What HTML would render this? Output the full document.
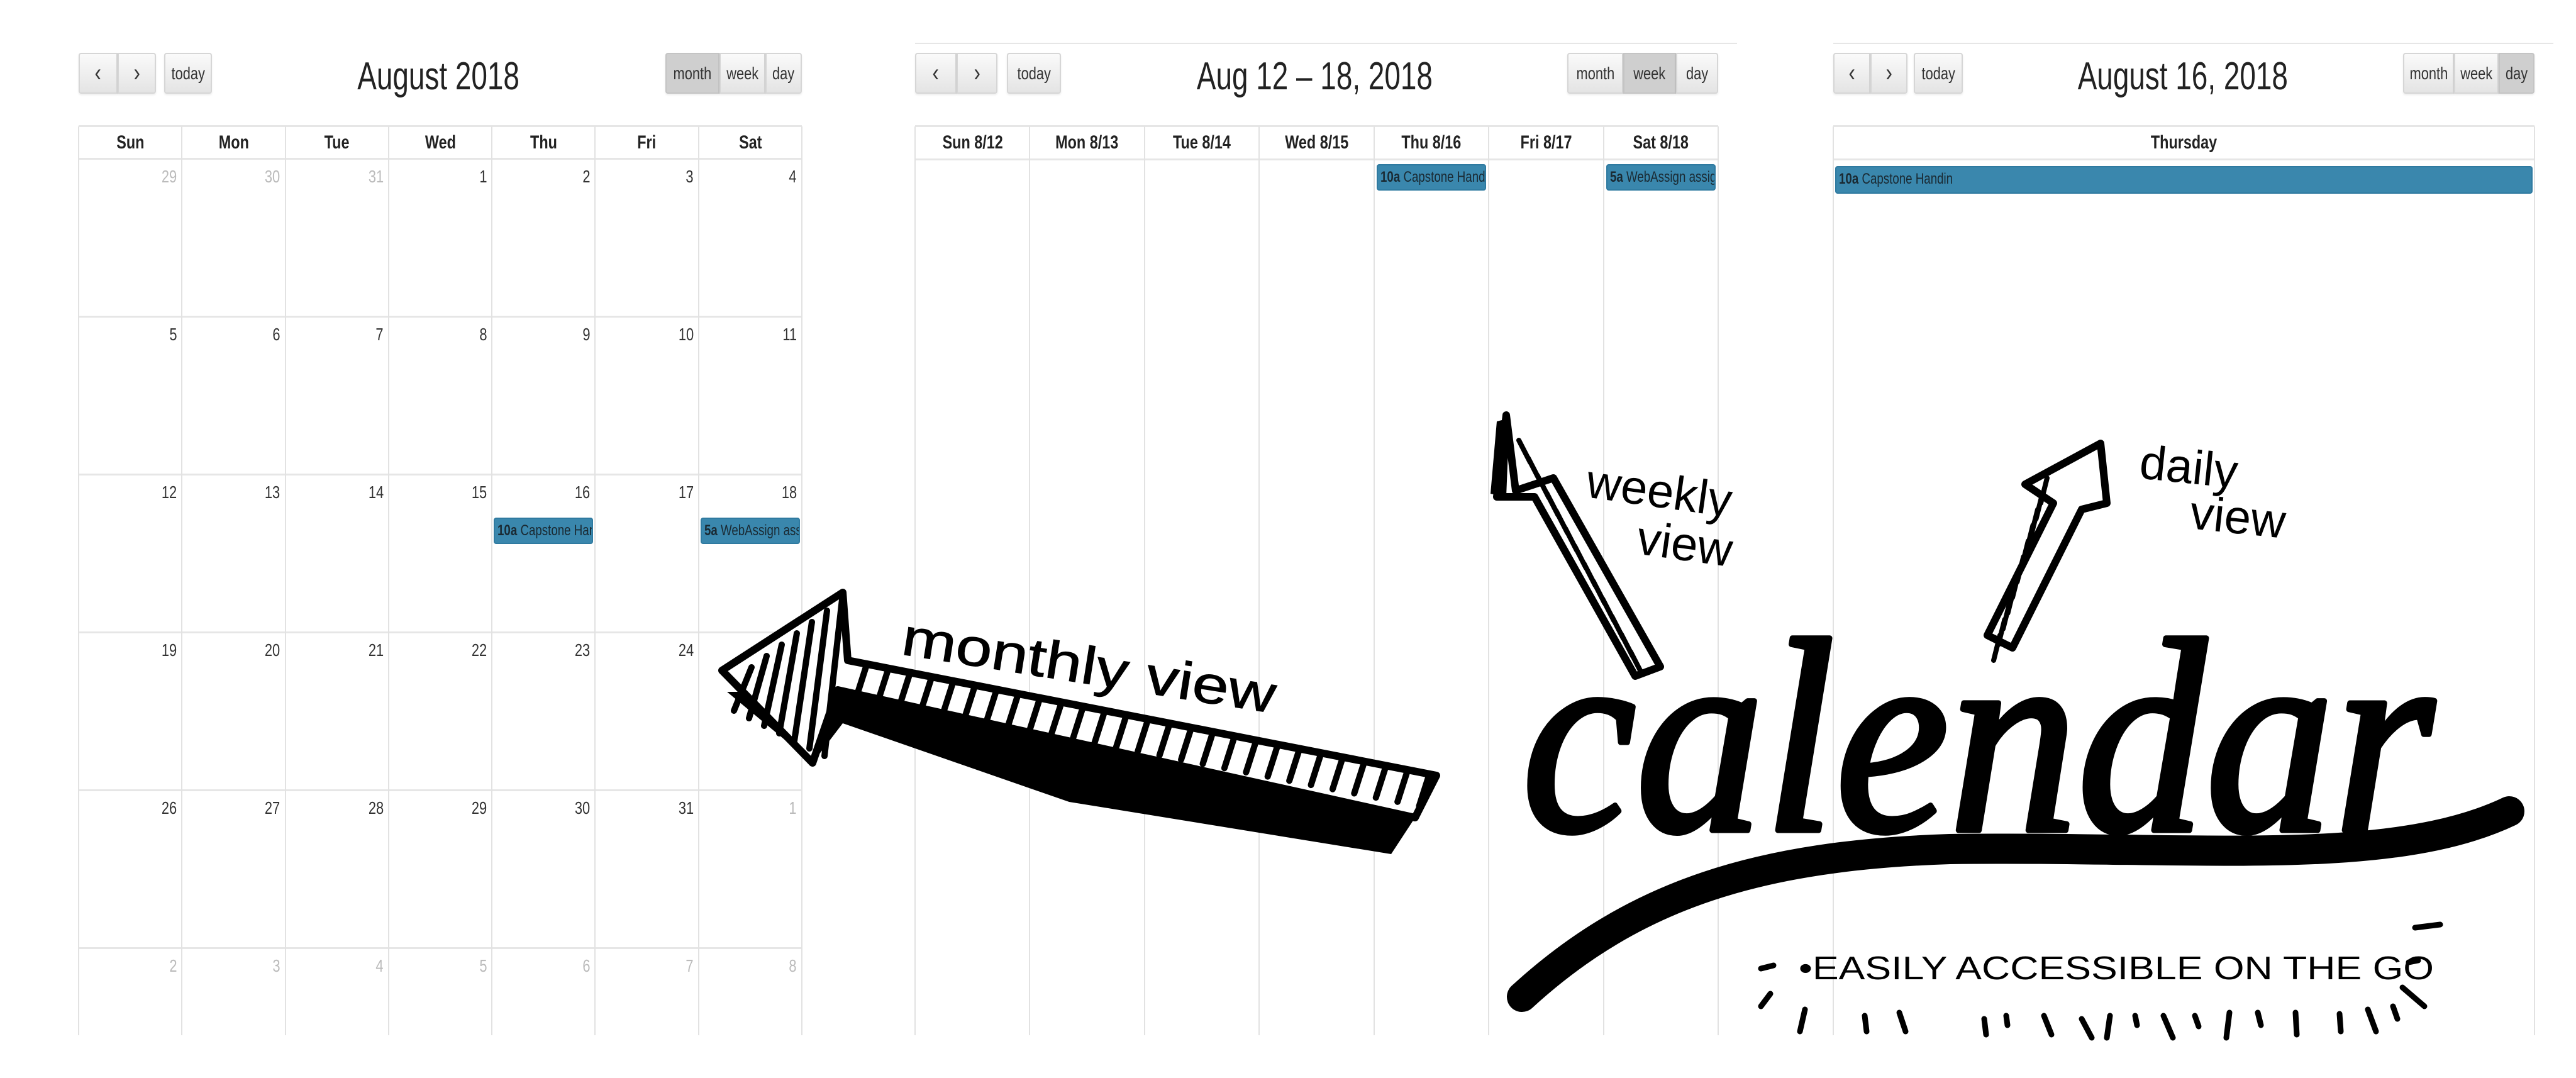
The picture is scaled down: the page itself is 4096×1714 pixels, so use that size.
<!DOCTYPE html>
<html><head><meta charset="utf-8">
<style>
html,body{margin:0;padding:0;background:#fff}
body{width:4096px;height:1714px;position:relative;overflow:hidden;font-family:"Liberation Sans",sans-serif;color:#222}
.abs{position:absolute;box-sizing:border-box}
.n{display:inline-block;transform:scaleX(.78);white-space:nowrap}
.btn{position:absolute;box-sizing:border-box;border:2px solid #d6d6d6;background:linear-gradient(#fafafa,#e4e4e4);color:#333;font-size:28px;display:flex;align-items:center;justify-content:center;border-radius:4px;box-shadow:0 2px 3px rgba(0,0,0,.08)}
.btn.on{background:#cfcfcf;border-color:#c4c4c4}
.title{position:absolute;font-size:62px;text-align:center}
.title .n{transform:scaleX(.74)}
.hdr{position:absolute;font-weight:bold;font-size:30px;text-align:center;top:201px;height:52px;line-height:52px}
.vl{position:absolute;width:2px;background:#e2e2e2}
.hl{position:absolute;height:3px;background:#e6e6e6}
.num{position:absolute;font-size:28px;text-align:right}
.num .n{transform-origin:right center}
.ev{position:absolute;background:#3a87ad;border:2px solid #2f7aa0;border-radius:4px;font-size:24px;color:#1a2a33;white-space:nowrap;overflow:hidden;line-height:38px;padding-left:4px;box-sizing:border-box}
.ev .n{transform-origin:left center}
.ev b{font-weight:bold}
</style></head><body>
<div id="root"></div>

<svg class="abs" style="left:0;top:0" width="4096" height="1714">
  <g>
    <polygon points="1156,1100 1340,1100 2250,1300 2212,1358 1700,1275 1340,1150 1292,1213" fill="#000"/>
    <polygon points="1148,1066 1340,942 1348,1050 2284,1233 2250,1300 1332,1097 1292,1213" fill="#fff" stroke="#000" stroke-width="12" stroke-linejoin="round"/>
    <g id="mhatch" stroke="#000" stroke-width="10" stroke-linecap="round"></g>
  </g>
  <text x="1431" y="1040" font-family="Liberation Sans" font-size="84" transform="rotate(9 1431 1040)" fill="#000" stroke="#000" stroke-width="1" textLength="600" lengthAdjust="spacingAndGlyphs">monthly  view</text>
  <g>
    <polygon points="2395,660 2410,780 2470,760 2640,1060 2600,1075 2440,790 2380,790" fill="#fff" stroke="#000" stroke-width="12" stroke-linejoin="round"/>
    <polygon points="2380,670 2400,665 2395,790 2370,785" fill="#000"/>
    <g id="whatch" stroke="#000" stroke-width="8" stroke-linecap="round"></g>
  </g>
  <text x="2520" y="790" font-family="Liberation Sans" font-size="76" transform="rotate(8 2520 790)" fill="#000">weekly</text>
  <text x="2600" y="880" font-family="Liberation Sans" font-size="76" transform="rotate(8 2600 880)" fill="#000">view</text>
  <g>
    <polygon points="3220,770 3340,705 3350,800 3310,810 3200,1030 3160,1010 3265,800" fill="#fff" stroke="#000" stroke-width="12" stroke-linejoin="round"/>
    <g id="dhatch" stroke="#000" stroke-width="8" stroke-linecap="round"></g>
  </g>
  <text x="3400" y="760" font-family="Liberation Sans" font-size="76" transform="rotate(6 3400 760)" fill="#000">daily</text>
  <text x="3480" y="840" font-family="Liberation Sans" font-size="76" transform="rotate(6 3480 840)" fill="#000">view</text>
  <text x="2420" y="1320" font-family="Liberation Serif" font-style="italic" font-size="440" textLength="1450" lengthAdjust="spacingAndGlyphs" fill="#000" stroke="#000" stroke-width="9" stroke-linejoin="round">calendar</text>
  <path d="M2420,1585 C2600,1420 2800,1360 3100,1350 C3500,1345 3800,1380 3990,1290" fill="none" stroke="#000" stroke-width="48" stroke-linecap="round"/>
  <text x="2860" y="1557" font-family="Liberation Sans" font-size="52" textLength="1010" lengthAdjust="spacingAndGlyphs" fill="#000">•EASILY  ACCESSIBLE  ON  THE  GO</text>
  <g id="rays" stroke="#000" stroke-width="9" stroke-linecap="round"></g>
</svg>

<script>
const root=document.getElementById('root');
function mk(cls,style,txt,name,inter){const d=document.createElement('div');d.className=cls;d.style.cssText=style;if(txt!==undefined&&txt!=='')d.innerHTML='<span class="n">'+txt+'</span>';


root.appendChild(d);return d;}

const weekdays=['Sun','Mon','Tue','Wed','Thu','Fri','Sat'];
const weekHeaders=['Sun 8/12','Mon 8/13','Tue 8/14','Wed 8/15','Thu 8/16','Fri 8/17','Sat 8/18'];
const monthDays=[[29,30,31,1,2,3,4],[5,6,7,8,9,10,11],[12,13,14,15,16,17,18],[19,20,21,22,23,24,25],[26,27,28,29,30,31,1],[2,3,4,5,6,7,8]];
const BOT=1646;

function toolbar(x0,prevW,todayX,todayW,title,titleX,views,active){
  mk('btn',`left:${x0}px;top:84px;width:${prevW/2}px;height:65px;border-radius:4px 0 0 4px;font-size:40px`,'&#x2039;','prev-button',true);
  mk('btn',`left:${x0+prevW/2}px;top:84px;width:${prevW/2}px;height:65px;border-radius:0 4px 4px 0;font-size:40px`,'&#x203A;','next-button',true);
  mk('btn',`left:${todayX}px;top:84px;width:${todayW}px;height:65px`,'today','today-button',true);
  mk('title',`left:${titleX-500}px;width:1000px;top:86px`,title,'calendar-title',false);
  const names=['month','week','day'];
  views.forEach((v,i)=>{mk('btn'+(names[i]===active?' on':''),`left:${v[0]}px;top:84px;width:${v[1]-v[0]}px;height:65px;border-radius:${i==0?'4px 0 0 4px':i==2?'0 4px 4px 0':'0'}`,names[i],names[i]+'-view-button',true);});
}

toolbar(125,123,261,76,'August 2018',697,[[1058,1144],[1144,1217],[1217,1275]],'month');
const mL=125,mW=1150,mc=mW/7;
mk('hl',`left:${mL}px;top:199px;width:${mW}px`,'','month-header-top-border',false);
weekdays.forEach((d,i)=>mk('hdr',`left:${mL+i*mc}px;width:${mc}px`,d,'month-header-'+d.toLowerCase(),false));
for(let r=0;r<=5;r++)mk('hl',`left:${mL}px;top:${251+r*251}px;width:${mW}px`,'','month-row-line',false);
for(let c=0;c<=7;c++)mk('vl',`left:${mL+c*mc-1}px;top:201px;height:${BOT-201}px`,'','month-col-line',false);
monthDays.forEach((row,r)=>row.forEach((n,c)=>{const other=(r==0&&n>20)||(r>=4&&n<10);
  mk('num',`left:${mL+c*mc}px;width:${mc-8}px;top:${251+r*251+14}px;color:${other?'#bbb':'#333'}`,n,'day-number',true);}));
mk('ev',`left:${mL+4*mc+3}px;top:823px;width:${mc-6}px;height:42px`,'<b>10a</b> Capstone Handin','event-capstone-month',true);
mk('ev',`left:${mL+6*mc+3}px;top:823px;width:${mc-6}px;height:42px`,'<b>5a</b> WebAssign assignment','event-webassign-month',true);

toolbar(1455,131,1601,86,'Aug 12 – 18, 2018',2090,[[2492,2581],[2581,2665],[2665,2732]],'week');
const wL=1455,wW=1277,wc=wW/7;
mk('hl',`left:${wL}px;top:68px;width:${wW+30}px;height:2px`,'','week-top-line',false);
mk('hl',`left:${wL}px;top:199px;width:${wW}px`,'','week-header-top-border',false);
mk('hl',`left:${wL}px;top:252px;width:${wW}px`,'','week-header-bottom-border',false);
weekHeaders.forEach((d,i)=>mk('hdr',`left:${wL+i*wc}px;width:${wc}px`,d,'week-header-'+i,false));
for(let c=0;c<=7;c++)mk('vl',`left:${wL+c*wc-1}px;top:201px;height:${BOT-201}px`,'','week-col-line',false);
mk('ev',`left:${wL+4*wc+4}px;top:261px;width:${wc-8}px;height:42px`,'<b>10a</b> Capstone Handin','event-capstone-week',true);
mk('ev',`left:${wL+6*wc+4}px;top:261px;width:${wc-8}px;height:42px`,'<b>5a</b> WebAssign assignment','event-webassign-week',true);

toolbar(2915,118,3043,78,'August 16, 2018',3471,[[3821,3902],[3902,3973],[3973,4030]],'day');
const dL=2915,dW=1115;
mk('hl',`left:${dL}px;top:68px;width:${dW+30}px;height:2px`,'','day-top-line',false);
mk('hl',`left:${dL}px;top:199px;width:${dW}px`,'','day-header-top-border',false);
mk('hl',`left:${dL}px;top:252px;width:${dW}px`,'','day-header-bottom-border',false);
mk('hdr',`left:${dL}px;width:${dW}px`,'Thursday','day-header-thursday',false);
mk('vl',`left:${dL-1}px;top:201px;height:${BOT-201}px`,'','day-left-line',false);
mk('vl',`left:${dL+dW-1}px;top:201px;height:${BOT-201}px`,'','day-right-line',false);
mk('ev',`left:${dL+3}px;top:264px;width:${dW-6}px;height:44px`,'<b>10a</b> Capstone Handin','event-capstone-day',true);

const NS='http://www.w3.org/2000/svg';
function line(g,x1,y1,x2,y2){const l=document.createElementNS(NS,'line');l.setAttribute('x1',x1);l.setAttribute('y1',y1);l.setAttribute('x2',x2);l.setAttribute('y2',y2);g.appendChild(l);}
const mh=document.getElementById('mhatch');
for(let t=0.03;t<1;t+=0.037){const x=1350+t*(2280-1350),y=1052+t*(1233-1052);line(mh,x,y,x-16,y+50);}
for(let i=0;i<7;i++){const x=1175+i*24,y=1066-i*18;line(mh,x+20,y-5,x-8,1130+i*12);}
const wh=document.getElementById('whatch');
for(let t=0;t<1;t+=0.08){const x=2415+t*(2600-2415),y=700+t*(1050-700);line(wh,x,y,x+18,y+35);}
const dh=document.getElementById('dhatch');
for(let t=0;t<1;t+=0.1){const x=3255+t*(3180-3255),y=760+t*(1010-760);line(dh,x,y,x-10,y+40);}
const rays=document.getElementById('rays');
[[2800,1540,2820,1535],[2815,1580,2800,1600],[2870,1605,2862,1640],[2965,1615,2968,1640],[3020,1610,3030,1640],[3155,1620,3158,1645],[3190,1615,3192,1630],[3250,1615,3262,1645],[3310,1620,3326,1650],[3355,1615,3350,1650],[3395,1615,3398,1630],[3440,1615,3455,1650],[3490,1615,3496,1632],[3545,1610,3540,1650],[3590,1610,3595,1630],[3650,1610,3652,1645],[3720,1612,3722,1640],[3765,1605,3778,1640],[3820,1570,3855,1600],[3830,1530,3845,1527],[3840,1475,3880,1470],[3805,1600,3812,1620]].forEach(r=>line(rays,...r));
</script>
</body></html>
